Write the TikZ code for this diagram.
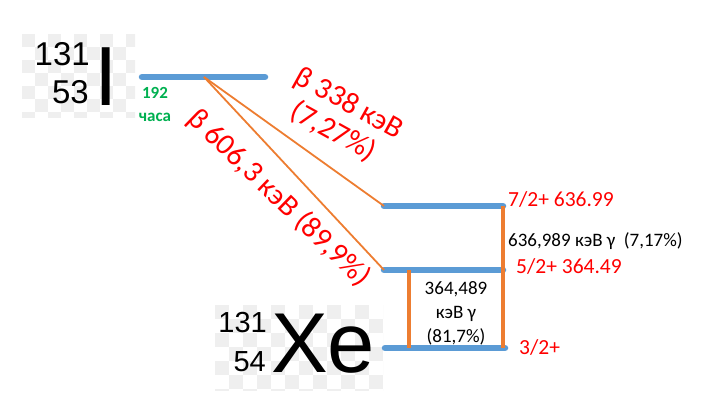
\documentclass[tikz,border=0pt]{standalone}
\usepackage{fontspec}
\setmainfont{Carlito}
\newfontfamily\arialfont{Liberation Sans}
\usetikzlibrary{positioning}
\definecolor{lvlblue}{HTML}{5B9BD5}
\definecolor{decayorange}{HTML}{ED7D31}
\definecolor{labelred}{HTML}{FF0000}
\definecolor{timegreen}{HTML}{00B050}
\definecolor{checkgray}{HTML}{EFEFEF}
\tikzstyle{level} = [draw=lvlblue, line width=6.5pt, line cap=round]
\tikzstyle{betaline} = [draw=decayorange, line width=1.8pt]
\tikzstyle{gammaline} = [draw=decayorange, line width=3.2pt]
\tikzstyle{spinlabel} = [text=labelred, inner sep=0pt, anchor=base west,
font=\fontsize{21.5}{24}\selectfont]
\tikzstyle{betalabel} = [text=labelred, inner sep=0pt, align=center,
font=\fontsize{30}{32}\selectfont]
\tikzstyle{gammalabel} = [text=black, inner sep=0pt,
font=\fontsize{19}{24}\selectfont]
\tikzstyle{isotope} = [inner sep=0pt, anchor=base east]

\begin{document}
\begin{tikzpicture}[x=1pt,y=-1pt]
	\useasboundingbox (0,0) rectangle (715,419);
	% checkered backgrounds
	\begin{scope}
	\clip (22,34) rectangle (135,118);
	\foreach \i in {0,...,8}{\foreach \j in {0,...,6}{
		\pgfmathtruncatemacro{\chk}{mod(\i+\j,2)}
		\ifnum\chk=0 \fill[checkgray] (22+\i*13,34+\j*13) rectangle ++(13,13); \fi}}
	\end{scope}
	\begin{scope}
	\clip (215,305) rectangle (383,391);
	\foreach \i in {0,...,12}{\foreach \j in {0,...,6}{
		\pgfmathtruncatemacro{\chk}{mod(\i+\j,2)}
		\ifnum\chk=0 \fill[checkgray] (215+\i*14,305+\j*14) rectangle ++(14,14); \fi}}
	\end{scope}
	% iodine
	\node [isotope, font=\arialfont\fontsize{33}{33}\selectfont] at (90,66) (Imass) {131};
	\node [isotope, font=\arialfont\fontsize{33}{33}\selectfont] at (89,104) (Ichg) {53};
	\node [inner sep=0pt, anchor=base west, font=\arialfont\fontsize{84}{84}\selectfont] at (94,106) (Isym) {I};
	\node [text=timegreen, inner sep=0pt, align=center, anchor=base,
	font=\bfseries\fontsize{17}{23}\selectfont] at (155,122) (Ilife) {192\\часа};
	% xenon
	\node [isotope, font=\arialfont\fontsize{29}{29}\selectfont] at (267,333) (Xmass) {131};
	\node [isotope, font=\arialfont\fontsize{29}{29}\selectfont] at (266,372) (Xchg) {54};
	\node [inner sep=0pt, anchor=base west, font=\arialfont\fontsize{85}{85}\selectfont] at (271,373) (Xsym) {Xe};
	% levels
	\coordinate (I-a) at (142,77);
	\coordinate (I-b) at (265,77);
	\coordinate (I-src) at (204,77);
	\coordinate (L7-a) at (384,206);
	\coordinate (L7-b) at (503,206);
	\coordinate (L5-a) at (384,270);
	\coordinate (L5-b) at (503,270);
	\coordinate (L5-g) at (409,270);
	\coordinate (L3-a) at (385,348);
	\coordinate (L3-b) at (505,348);
	\coordinate (L3-g) at (409,348);
	\coordinate (L3-h) at (503,348);
	\path [level] (I-a) -- (I-b);
	\path [level] (L7-a) -- (L7-b);
	\path [level] (L5-a) -- (L5-b);
	\path [level] (L3-a) -- (L3-b);
	\path [betaline] (I-src) -- (L7-a);
	\path [betaline] (I-src) -- (L5-a);
	\path [gammaline] (L7-b) -- (L3-h);
	\path [gammaline] (L5-g) -- (L3-g);
	% labels
	\node [spinlabel] at (508,207) (S7) {7/2+ 636.99};
	\node [spinlabel] at (516,274) (S5) {5/2+ 364.49};
	\node [spinlabel] at (519,355) (S3) {3/2+};
	\node [gammalabel, anchor=base west] at (508,247) (G7) {636,989 кэВ γ~~(7,17\%)};
	\node [gammalabel, align=center, anchor=base] at (456,343) (G5) {364,489\\кэВ γ\\(81,7\%)};
	\node [betalabel, rotate=-29] at (341,118) (B1) {β 338 кэВ\\(7,27\%)};
	\node [betalabel, rotate=-44] at (279,198) (B2) {β 606,3 кэВ (89,9\%)};
\end{tikzpicture}
\end{document}
